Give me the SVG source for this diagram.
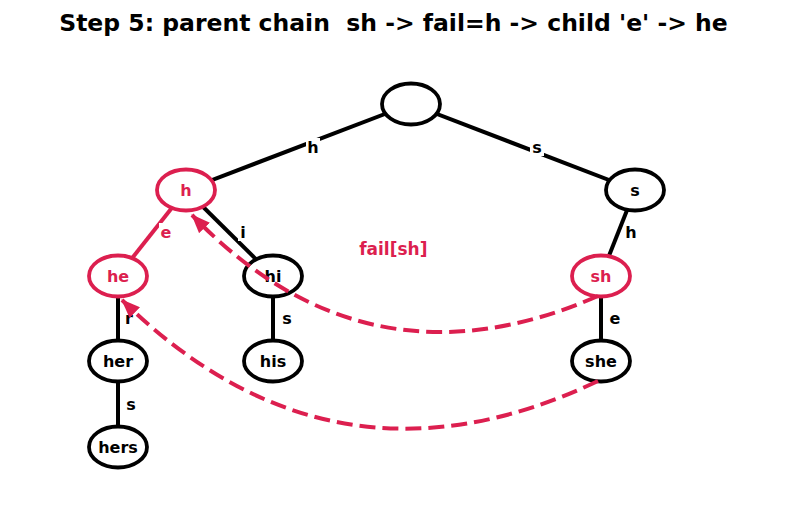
<svg xmlns="http://www.w3.org/2000/svg" width="787" height="510" viewBox="0 0 787 510">
  <style>
    text { font-family: "DejaVu Sans", "Liberation Sans", sans-serif; font-weight: bold; }
    .title { font-size: 23.5px; white-space: pre; fill: #000; }
    .edge { stroke: #000; stroke-width: 4; fill: none; }
    .edge.hl { stroke: #DC1F4F; }
    .node ellipse { fill: #fff; stroke: #000; stroke-width: 3.8; }
    .node.hl ellipse { stroke: #DC1F4F; }
    .node text { font-size: 16px; fill: #000; text-anchor: middle; dominant-baseline: central; }
    .node.hl text { fill: #DC1F4F; }
    .elabel rect { fill: #fff; }
    .elabel text { font-size: 16px; fill: #000; text-anchor: middle; dominant-baseline: central; }
    .elabel.hl text { fill: #DC1F4F; }
    .fail { stroke: #DC1F4F; stroke-width: 4; fill: none; stroke-dasharray: 16 7; }
    .note { font-size: 17px; fill: #DC1F4F; text-anchor: middle; dominant-baseline: central; }
  </style>
  <defs>
    <marker id="arrow" viewBox="0 0 19 15" refX="18" refY="7.5" markerWidth="19" markerHeight="15" markerUnits="userSpaceOnUse" orient="auto">
      <path d="M0,0 L19,7.5 L0,15 Z" fill="#DC1F4F" stroke="none"/>
    </marker>
  </defs>

  <rect width="787" height="510" fill="#fff"/>

  <text class="title" x="393.5" y="31" text-anchor="middle">Step 5: parent chain  sh -&gt; fail=h -&gt; child 'e' -&gt; he</text>

  <!-- trie edges, centre to centre -->
  <g id="edges">
    <line class="edge" x1="411" y1="104" x2="186" y2="190"/>
    <line class="edge" x1="411" y1="104" x2="635" y2="190"/>
    <line class="edge hl" x1="186" y1="190" x2="118" y2="276"/>
    <line class="edge" x1="186" y1="190" x2="273" y2="276"/>
    <line class="edge" x1="635" y1="190" x2="601" y2="276"/>
    <line class="edge" x1="118" y1="276" x2="118" y2="361"/>
    <line class="edge" x1="273" y1="276" x2="273" y2="361"/>
    <line class="edge" x1="601" y1="276" x2="601" y2="361"/>
    <line class="edge" x1="118" y1="361" x2="118" y2="447"/>
  </g>

  <!-- edge characters -->
  <g id="edge-labels">
    <g class="elabel"><rect x="306" y="138" width="14" height="18"/><text x="313" y="147">h</text></g>
    <g class="elabel"><rect x="530" y="138" width="14" height="18"/><text x="537" y="147">s</text></g>
    <g class="elabel hl"><rect x="159" y="223" width="14" height="18"/><text x="166" y="232">e</text></g>
    <g class="elabel"><rect x="238" y="223" width="10" height="18"/><text x="243" y="232">i</text></g>
    <g class="elabel"><rect x="624" y="223" width="14" height="18"/><text x="631" y="232">h</text></g>
    <g class="elabel"><rect x="123" y="309" width="12" height="18"/><text x="129" y="318">r</text></g>
    <g class="elabel"><rect x="280" y="309" width="14" height="18"/><text x="287" y="318">s</text></g>
    <g class="elabel"><rect x="608" y="309" width="14" height="18"/><text x="615" y="318">e</text></g>
    <g class="elabel"><rect x="124" y="395" width="14" height="18"/><text x="131" y="404">s</text></g>
  </g>

  <!-- trie nodes -->
  <g id="node-root" class="node"><ellipse cx="411" cy="104" rx="29" ry="20.5"/></g>
  <g id="node-h" class="node hl"><ellipse cx="186" cy="190" rx="29" ry="20.5"/><text x="186" y="190">h</text></g>
  <g id="node-s" class="node"><ellipse cx="635" cy="190" rx="29" ry="20.5"/><text x="635" y="190">s</text></g>
  <g id="node-he" class="node hl"><ellipse cx="118" cy="276" rx="29" ry="20.5"/><text x="118" y="276">he</text></g>
  <g id="node-hi" class="node"><ellipse cx="273" cy="276" rx="29" ry="20.5"/><text x="273" y="276">hi</text></g>
  <g id="node-sh" class="node hl"><ellipse cx="601" cy="276" rx="29" ry="20.5"/><text x="601" y="276">sh</text></g>
  <g id="node-her" class="node"><ellipse cx="118" cy="361" rx="29" ry="20.5"/><text x="118" y="361">her</text></g>
  <g id="node-his" class="node"><ellipse cx="273" cy="361" rx="29" ry="20.5"/><text x="273" y="361">his</text></g>
  <g id="node-she" class="node"><ellipse cx="601" cy="361" rx="29" ry="20.5"/><text x="601" y="361">she</text></g>
  <g id="node-hers" class="node"><ellipse cx="118" cy="447" rx="29" ry="20.5"/><text x="118" y="447">hers</text></g>

  <!-- failure links -->
  <g id="fail-links">
    <path class="fail" d="M598,296 Q367,397 192,215" marker-end="url(#arrow)"/>
    <path class="fail" d="M598,381 Q333,507 122,300" marker-end="url(#arrow)"/>
  </g>

  <text class="note" x="393.3" y="249">fail[sh]</text>
</svg>
